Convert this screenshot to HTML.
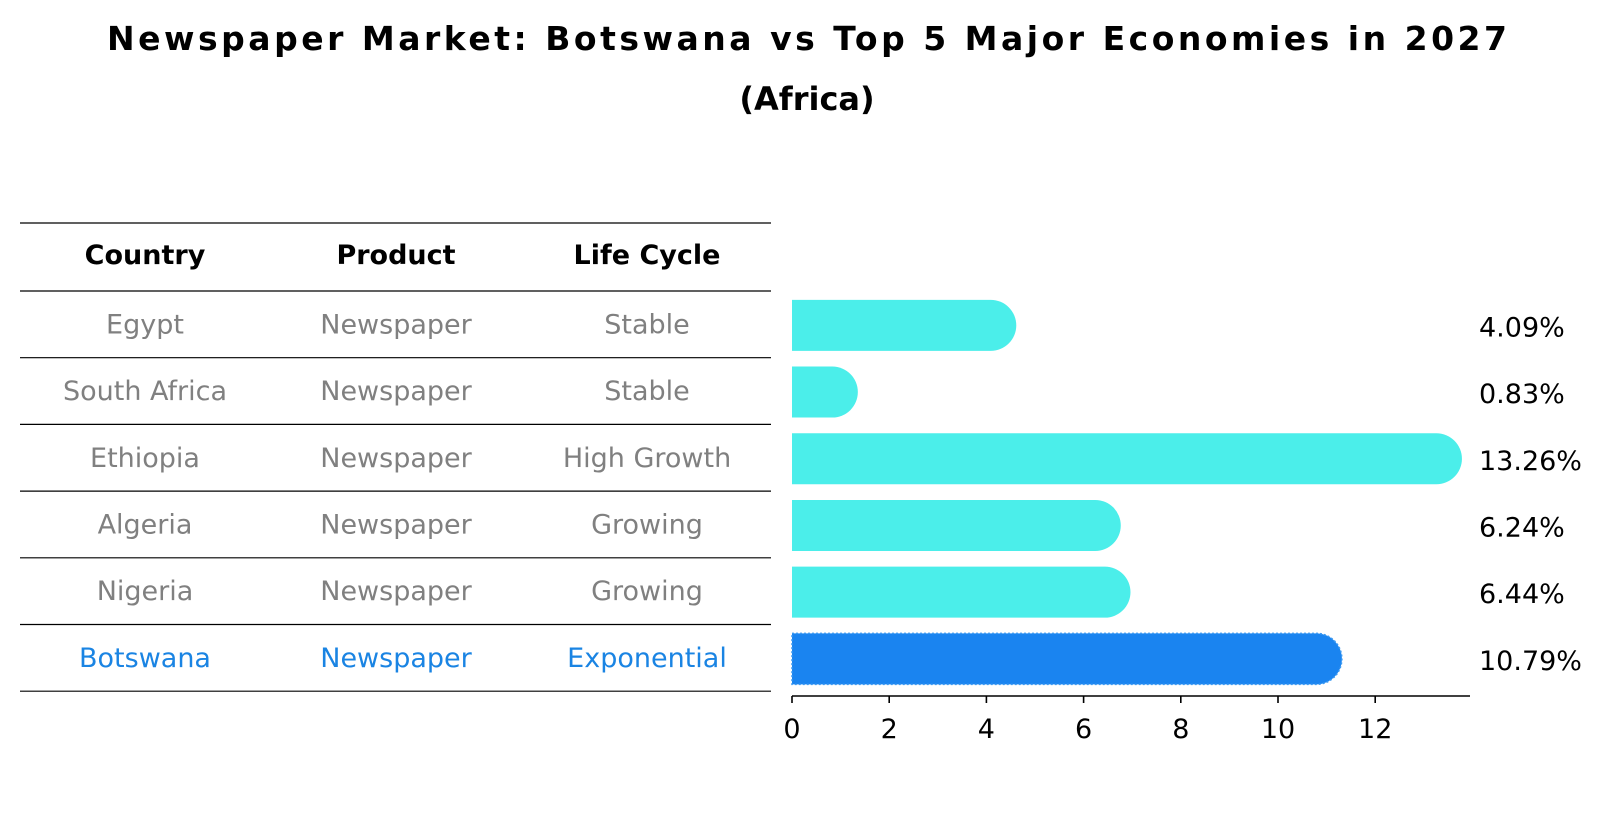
<!DOCTYPE html>
<html><head><meta charset="utf-8"><style>
html,body{margin:0;padding:0;background:#fff;}
svg{display:block;font-family:"DejaVu Sans","Liberation Sans",sans-serif;}
</style></head><body>
<svg id="chart" width="1604" height="823" viewBox="0 0 1604 823" xmlns="http://www.w3.org/2000/svg">
<text x="807" y="50" text-anchor="middle" font-weight="bold" font-size="33" textLength="1400" lengthAdjust="spacing">Newspaper Market: Botswana vs Top 5 Major Economies in 2027</text>
<text x="807" y="110" text-anchor="middle" font-weight="bold" font-size="32">(Africa)</text>
<g id="table"></g>
<g id="bars"></g>
<g id="xaxis"></g>
</svg>
<script>
const countries = ["Egypt","South Africa","Ethiopia","Algeria","Nigeria","Botswana"];
const products = ["Newspaper","Newspaper","Newspaper","Newspaper","Newspaper","Newspaper"];
const lifeCycles = ["Stable","Stable","High Growth","Growing","Growing","Exponential"];
const values = [4.09,0.83,13.26,6.24,6.44,10.79];
const valueLabels = ["4.09%","0.83%","13.26%","6.24%","6.44%","10.79%"];
const xTicks = [0,2,4,6,8,10,12];

const NS="http://www.w3.org/2000/svg";
function mk(tag,attrs,parent){const e=document.createElementNS(NS,tag);for(const k in attrs)e.setAttribute(k,attrs[k]);parent.appendChild(e);return e;}
const x0=792, pxPerUnit=48.6;
function xScale(v){return x0+v*pxPerUnit;}
const rowTop=291, rowH=66.7;
function yCenter(i){return rowTop+rowH*(i+0.5)+1;}

const tbl=document.getElementById('table');
const colX=[145,396,647];
const lineYs=[223];
for(let i=0;i<=countries.length;i++)lineYs.push(rowTop+rowH*i);
lineYs.forEach(function(y){
  const l=mk('line',{x1:20,x2:771,y1:y,y2:y,stroke:'#000','stroke-width':1.2},tbl);
  
  
});
const headers=["Country","Product","Life Cycle"];
headers.forEach(function(h,j){
  const t=mk('text',{x:colX[j],y:264,'text-anchor':'middle','font-size':27,'font-weight':'bold',fill:'#000'},tbl);
  t.textContent=h;
  
  
});
countries.forEach(function(c,i){
  const isB = c==="Botswana";
  const col = isB ? '#1a84e3' : '#808080';
  [c,products[i],lifeCycles[i]].forEach(function(txt,j){
    const t=mk('text',{x:colX[j],y:yCenter(i)+8,'text-anchor':'middle','font-size':27,fill:col},tbl);
    t.textContent=txt;
    
    
  });
});

const bars=document.getElementById('bars');
const bh=51, r=25.5;
values.forEach(function(v,i){
  const isB = countries[i]==="Botswana";
  const yc=yCenter(i), xe=xScale(v);
  const d='M'+x0+','+(yc-bh/2)+' H'+xe+' A'+r+','+r+' 0 0 1 '+xe+','+(yc+bh/2)+' H'+x0+' Z';
  const p=mk('path',{d:d,fill:isB?'#1a84f0':'#4beeea'},bars);
  if(isB){p.setAttribute('stroke','#3c9af2');p.setAttribute('stroke-dasharray','2,2');p.setAttribute('stroke-width','1.5');}
  
  
  const t=mk('text',{x:1479,y:yc+11,'font-size':27,fill:'#000'},bars);
  t.textContent=valueLabels[i];
  
  
});

const ax=document.getElementById('xaxis');
const axl=mk('line',{x1:x0,x2:1470,y1:696,y2:696,stroke:'#000','stroke-width':1.6},ax);


xTicks.forEach(function(v){
  const x=xScale(v);
  const tk=mk('line',{x1:x,x2:x,y1:696,y2:703,stroke:'#000','stroke-width':1.6},ax);
  
  
  const t=mk('text',{x:x,y:738,'text-anchor':'middle','font-size':27,fill:'#000'},ax);
  t.textContent=String(v);
  
  
});
</script>
</body></html>
